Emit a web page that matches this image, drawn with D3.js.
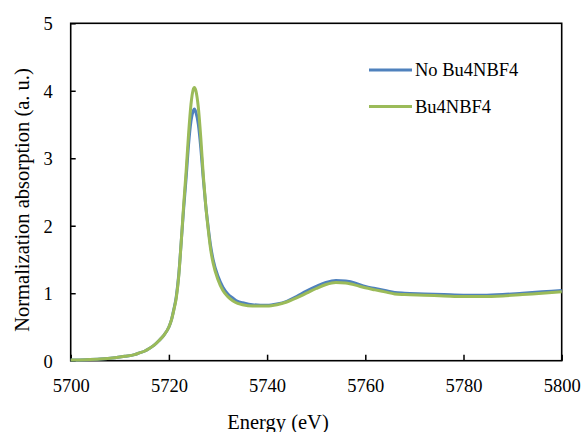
<!DOCTYPE html>
<html>
<head>
<meta charset="utf-8">
<script src="https://d3js.org/d3.v7.min.js"></script>
<style>
  body { margin: 0; background: #fff; }
  svg text { font-family: "Liberation Serif", "Times New Roman", serif; fill: #000; }
</style>
</head>
<body>
<script>
// energies (eV) shared by both spectra
const energy = [5700, 5703, 5706, 5709, 5711, 5713, 5714, 5715, 5716, 5717, 5718, 5719, 5720, 5720.5, 5721, 5721.5, 5722, 5722.5, 5723, 5723.5, 5724, 5724.5, 5725, 5725.2, 5725.5, 5726, 5726.5, 5727, 5727.5, 5728, 5728.5, 5729, 5730, 5731, 5732, 5733, 5734, 5735, 5737, 5740, 5742, 5744, 5746, 5748, 5750, 5752, 5754, 5756, 5758, 5760, 5762, 5764, 5766, 5768, 5772, 5776, 5780, 5784, 5788, 5792, 5796, 5800];
const noBu4NBF4 = [0.01, 0.015, 0.025, 0.045, 0.065, 0.09, 0.115, 0.14, 0.18, 0.23, 0.3, 0.38, 0.5, 0.6, 0.76, 0.95, 1.27, 1.75, 2.25, 2.7, 3.2, 3.55, 3.71, 3.73, 3.68, 3.5, 3.15, 2.7, 2.3, 1.98, 1.7, 1.5, 1.25, 1.09, 0.99, 0.93, 0.88, 0.86, 0.83, 0.82, 0.84, 0.88, 0.95, 1.03, 1.1, 1.16, 1.19, 1.18, 1.15, 1.1, 1.07, 1.04, 1.01, 1.0, 0.99, 0.98, 0.97, 0.97, 0.98, 1.0, 1.02, 1.04];
const bu4NBF4 = [0.01, 0.015, 0.025, 0.045, 0.065, 0.09, 0.115, 0.14, 0.18, 0.23, 0.3, 0.38, 0.5, 0.6, 0.75, 0.93, 1.25, 1.75, 2.3, 2.8, 3.35, 3.8, 4.03, 4.05, 4.0, 3.75, 3.3, 2.75, 2.3, 1.95, 1.65, 1.45, 1.2, 1.04, 0.95, 0.89, 0.85, 0.83, 0.81, 0.81, 0.83, 0.87, 0.93, 1.0, 1.07, 1.13, 1.16, 1.15, 1.12, 1.08, 1.05, 1.02, 0.99, 0.98, 0.97, 0.96, 0.95, 0.95, 0.96, 0.98, 1.0, 1.02];
const seriesNames = ['No Bu4NBF4', 'Bu4NBF4'];
const seriesColors = ['#4f81bd', '#9bbb59'];
const xTicks = [5700, 5720, 5740, 5760, 5780, 5800];
const yTicks = [0, 1, 2, 3, 4, 5];

const W = 583, H = 432;
const mLeft = 70.7, mRight = 561.7, mTop = 23.3, mBottom = 360.7;
const fs = '18.5px';
const serif = '"Liberation Serif", "Times New Roman", serif';

const svg = d3.select('body').append('svg')
  .attr('width', W)
  .attr('height', H);

const x = d3.scaleLinear().domain([5700, 5800]).range([mLeft, mRight]);
const y = d3.scaleLinear().domain([0, 5]).range([mBottom, mTop]);

// axes with inward ticks
const xAxis = svg.append('g')
  .attr('transform', `translate(0,${mBottom})`)
  .call(d3.axisBottom(x).tickValues(xTicks).tickFormat(d3.format('d'))
    .tickSizeInner(-6).tickSizeOuter(0).tickPadding(18));
const yAxis = svg.append('g')
  .attr('transform', `translate(${mLeft},0)`)
  .call(d3.axisLeft(y).tickValues(yTicks).tickFormat(d3.format('d'))
    .tickSizeInner(-5).tickSizeOuter(0).tickPadding(18));

[xAxis, yAxis].forEach(g => {
  g.attr('font-family', null).attr('font-size', null);
  g.select('.domain').remove();
  g.selectAll('.tick line').attr('stroke', '#000').attr('stroke-width', 1.5);
  g.selectAll('.tick text')
    .style('font-family', serif)
    .style('font-size', fs)
    .attr('fill', '#000');
});
yAxis.selectAll('.tick text').attr('dy', '0.35em');

// frame
svg.append('rect')
  .attr('x', mLeft).attr('y', mTop)
  .attr('width', mRight - mLeft).attr('height', mBottom - mTop)
  .attr('fill', 'none').attr('stroke', '#000').attr('stroke-width', 1.6);

const line = d3.line()
  .x((d, i) => x(energy[i]))
  .y(d => y(d))
  .curve(d3.curveMonotoneX);

[noBu4NBF4, bu4NBF4].forEach((s, k) => {
  svg.append('path')
    .attr('d', line(s))
    .attr('fill', 'none')
    .attr('stroke', seriesColors[k])
    .attr('stroke-width', 3)
    .attr('stroke-linejoin', 'round');
});

// legend
seriesNames.forEach((n, k) => {
  const ly = 70 + k * 36.5;
  svg.append('line')
    .attr('x1', 369).attr('x2', 412)
    .attr('y1', ly).attr('y2', ly)
    .attr('stroke', seriesColors[k]).attr('stroke-width', 3);
  svg.append('text')
    .attr('x', 415).attr('y', ly + 6)
    .style('font-size', fs)
    .text(n);
});

// axis titles
svg.append('text')
  .attr('x', 278).attr('y', 429)
  .attr('text-anchor', 'middle')
  .style('font-size', '20.5px')
  .text('Energy (eV)');

svg.append('text')
  .attr('transform', 'translate(29,200) rotate(-90)')
  .attr('text-anchor', 'middle')
  .style('font-size', '20.5px')
  .text('Normalization absorption (a. u.)');
</script>
</body>
</html>
